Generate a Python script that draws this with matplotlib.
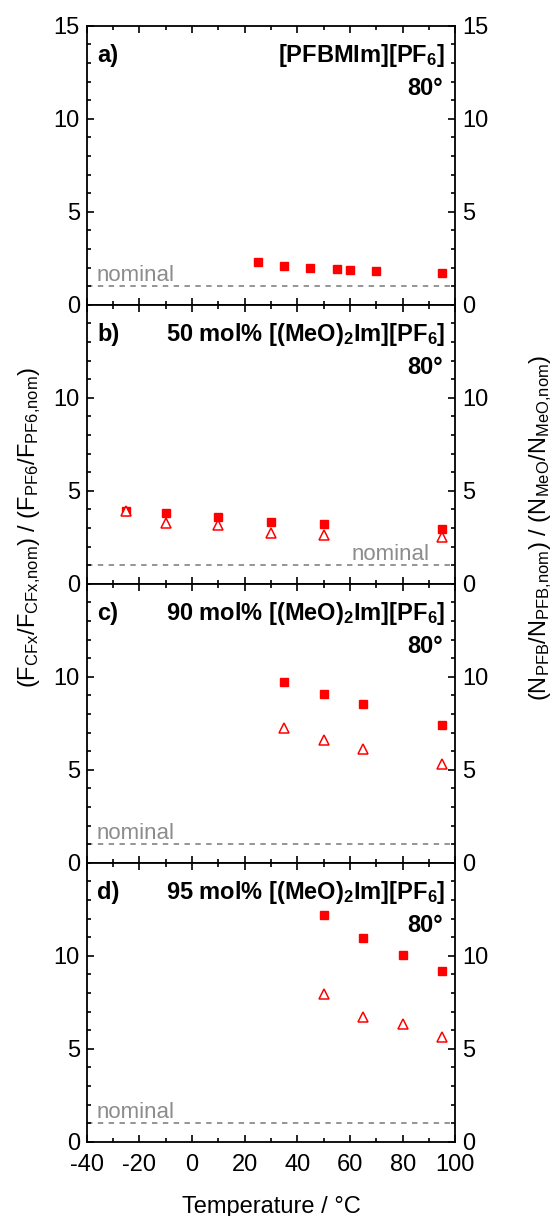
import matplotlib
matplotlib.use("Agg")
import matplotlib.pyplot as plt
from matplotlib.ticker import MultipleLocator

plt.rcParams['font.family'] = ['Liberation Sans', 'DejaVu Sans']
plt.rcParams['mathtext.fontset'] = 'custom'
plt.rcParams['mathtext.rm'] = 'Liberation Sans'
plt.rcParams['mathtext.it'] = 'Liberation Sans:italic'
plt.rcParams['mathtext.bf'] = 'Liberation Sans:bold'
plt.rcParams['axes.unicode_minus'] = False

# ---- data ----
a_T = [25, 35, 45, 55, 60, 70, 95]
a_F = [2.28, 2.10, 1.96, 1.90, 1.88, 1.80, 1.69]

b_T = [-25, -10, 10, 30, 50, 95]
b_F = [3.91, 3.80, 3.57, 3.33, 3.21, 2.94]
b_N = [3.92, 3.28, 3.15, 2.74, 2.63, 2.49]

c_T = [35, 50, 65, 95]
c_F = [9.70, 9.07, 8.52, 7.39]
c_N = [7.23, 6.57, 6.10, 5.31]

d_T = [50, 65, 80, 95]
d_F = [12.20, 10.96, 10.02, 9.16]
d_N = [7.95, 6.68, 6.32, 5.64]

nominal = 1.0
panel_letters = ['a)', 'b)', 'c)', 'd)']
panel_titles = [r'$\mathbf{[PFBMIm][PF_6]}$',
                r'50 mol% [(MeO)$\mathbf{_2}$Im][PF$\mathbf{_6}$]',
                r'90 mol% [(MeO)$\mathbf{_2}$Im][PF$\mathbf{_6}$]',
                r'95 mol% [(MeO)$\mathbf{_2}$Im][PF$\mathbf{_6}$]']
angle_label = '80°'
nominal_side = ['left', 'right', 'left', 'left']

FS = 17
W, H = 555, 1216
fig = plt.figure(figsize=(W / 100, H / 100), dpi=100)

left = 86.7 / W
right = 455.3 / W
top_px = 25.7
bot_px = 1141.7
ph = (bot_px - top_px) / 4

series = [(a_T, a_F, None, None), (b_T, b_F, b_T, b_N), (c_T, c_F, c_T, c_N), (d_T, d_F, d_T, d_N)]

for i in range(4):
    y0 = top_px + i * ph
    ax = fig.add_axes([left, 1 - (y0 + ph) / H, right - left, ph / H])
    T, F, Tn, N = series[i]
    ax.axhline(nominal, color='#8c8c8c', lw=1.3, ls=(0, (3, 3)), zorder=1)
    ax.plot(T, F, ls='none', marker='s', ms=6.3, color='#ff0000', mec='#ff0000', zorder=3)
    if N is not None:
        ax.plot(Tn, N, ls='none', marker='^', ms=6.5, mfc='white', mec='#ff0000', mew=1.1, zorder=4)
    ax.set_xlim(-40, 100)
    ax.set_ylim(0, 15)
    ax.xaxis.set_major_locator(MultipleLocator(20))
    ax.xaxis.set_minor_locator(MultipleLocator(10))
    ax.set_yticks([0, 5, 10, 15] if i == 0 else [0, 5, 10])
    ax.yaxis.set_minor_locator(MultipleLocator(1))
    ax.tick_params(which='both', direction='in', top=True, right=True, width=1.2,
                   labelright=True, labelsize=FS, pad=5)
    ax.tick_params(which='major', length=5)
    ax.tick_params(which='minor', length=3)
    ax.tick_params(axis='x', pad=9)
    if i < 3:
        ax.tick_params(axis='x', labelbottom=False)
    for s in ax.spines.values():
        s.set_linewidth(1.3)
    ax.text(0.028, 0.871, panel_letters[i], transform=ax.transAxes, fontsize=FS,
            fontweight='bold', ha='left', va='baseline')
    ax.text(0.972, 0.871, panel_titles[i], transform=ax.transAxes, fontsize=FS,
            fontweight='bold', ha='right', va='baseline')
    ax.text(0.966, 0.750, angle_label, transform=ax.transAxes, fontsize=FS,
            fontweight='bold', ha='right', va='baseline')
    if nominal_side[i] == 'left':
        ax.text(0.027, 1.3, 'nominal', transform=ax.get_yaxis_transform(), fontsize=16,
                color='#8c8c8c', ha='left', va='baseline')
    else:
        ax.text(0.931, 1.3, 'nominal', transform=ax.get_yaxis_transform(), fontsize=16,
                color='#8c8c8c', ha='right', va='baseline')
    if i == 3:
        ax.set_xlabel('Temperature / °C', fontsize=FS, labelpad=14)

fig.text(30 / W, 1 - 528 / H,
         r'$(\mathrm{F_{CFx}/F_{CFx{,}nom}})\ /\ (\mathrm{F_{PF6}/F_{PF6{,}nom}})$',
         rotation=90, fontsize=FS, ha='center', va='center')
fig.text(541 / W, 1 - 528 / H,
         r'$(\mathrm{N_{PFB}/N_{PFB{,}nom}})\ /\ (\mathrm{N_{MeO}/N_{MeO{,}nom}})$',
         rotation=90, fontsize=FS, ha='center', va='center')

fig.savefig('out.png', dpi=100)
